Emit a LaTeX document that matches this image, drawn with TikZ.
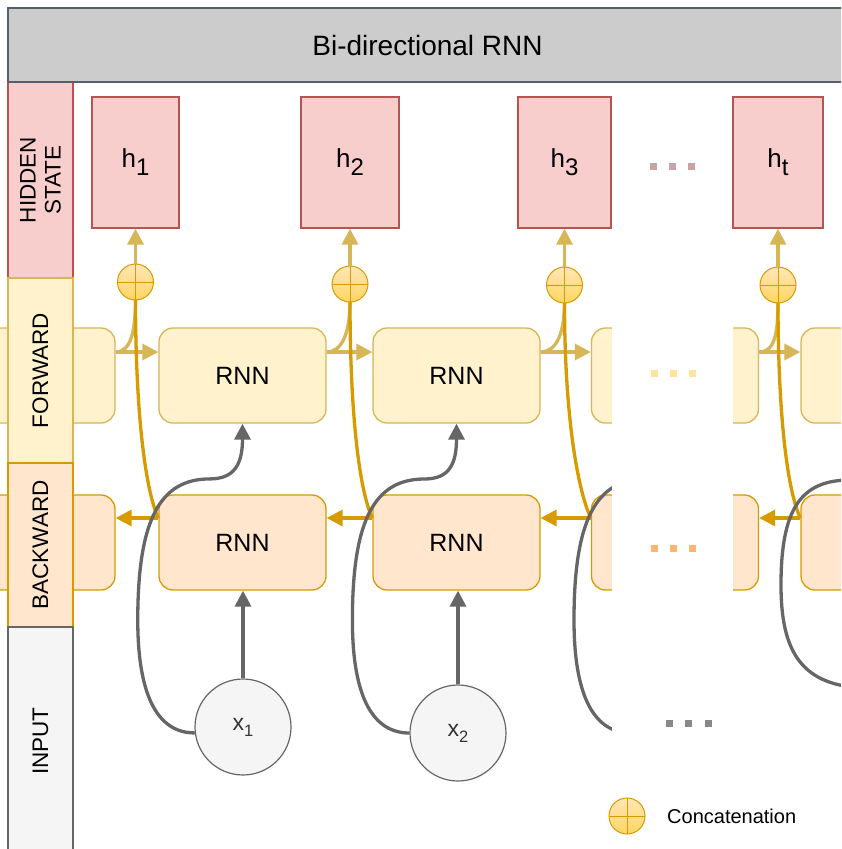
\documentclass[tikz,border=0pt]{standalone}
\usepackage{fontspec}
\setmainfont{Liberation Sans}
\usetikzlibrary{arrows.meta}

\definecolor{hdrfill}{HTML}{CCCCCC}
\definecolor{hdrline}{HTML}{56606D}
\definecolor{hsfill}{HTML}{F8CECC}
\definecolor{hsline}{HTML}{B85450}
\definecolor{fwfill}{HTML}{FFF2CC}
\definecolor{fwline}{HTML}{D6B656}
\definecolor{bwfill}{HTML}{FFE6CC}
\definecolor{bwline}{HTML}{D79B00}
\definecolor{infill}{HTML}{F5F5F5}
\definecolor{inputline}{HTML}{666666}
\definecolor{txtgray}{HTML}{333333}
\definecolor{cattop}{HTML}{FFE6B8}
\definecolor{catbot}{HTML}{FFD660}
\definecolor{dothid}{HTML}{C9A3A6}
\definecolor{dotfw}{HTML}{FFE599}
\definecolor{dotbw}{HTML}{FFB570}
\definecolor{dotin}{HTML}{888888}

\begin{document}
\begin{tikzpicture}[x=1pt,y=-1pt,
  blockarrow/.style={-{Triangle[length=16pt,width=16pt]}},
  fwflow/.style={draw=fwline,line width=3.3pt},
  bwflow/.style={draw=bwline,line width=3.3pt},
  inflow/.style={draw=inputline,line width=3.3pt},
  cellbox/.style={rectangle,rounded corners=14pt,minimum width=167pt,minimum height=95pt,
    line width=1.3pt,inner sep=0pt,font=\fontsize{25}{30}\selectfont},
  fwcell/.style={cellbox,fill=fwfill,draw=fwline},
  bwcell/.style={cellbox,fill=bwfill,draw=bwline},
  hbox/.style={rectangle,fill=hsfill,draw=hsline,line width=1.3pt,minimum height=131pt,
    inner sep=0pt,font=\fontsize{26}{30}\selectfont},
  concat/.style={circle,minimum size=36pt,inner sep=0pt,draw=bwline,line width=1pt,
    top color=cattop,bottom color=catbot,
    path picture={\draw[bwline,line width=1pt]
      (path picture bounding box.north) -- (path picture bounding box.south)
      (path picture bounding box.west) -- (path picture bounding box.east);}},
  xin/.style={circle,minimum size=96pt,inner sep=0pt,fill=infill,draw=inputline,
    line width=1.2pt,text=txtgray,font=\fontsize{23}{26}\selectfont},
  lane/.style={rectangle,rotate=90,minimum height=65pt,line width=1.3pt,align=center,
    inner sep=0pt,font=\fontsize{22.5}{25}\selectfont},
  banner/.style={rectangle,fill=hdrfill,draw=hdrline,line width=1.3pt,minimum width=839pt,
    minimum height=74pt,font=\fontsize{28}{32}\selectfont}
]
\useasboundingbox (0,0) rectangle (841,849);
\fill[white] (0,0) rectangle (841,849);
\clip (0,0) rectangle (841,849);

% forward and backward RNN cells
\node[fwcell] (f0) at (31.5,375.5) {};
\node[fwcell] (f1) at (242.5,375.5) {RNN};
\node[fwcell] (f2) at (456.5,375.5) {RNN};
\node[fwcell] (f3) at (675,375.5) {};
\node[fwcell] (f4) at (884.5,375.5) {};
\node[bwcell] (b0) at (31.5,542.5) {};
\node[bwcell] (b1) at (242.5,542.5) {RNN};
\node[bwcell] (b2) at (456.5,542.5) {RNN};
\node[bwcell] (b3) at (675,542.5) {};
\node[bwcell] (b4) at (884.5,542.5) {};

% concatenation points (positions only; drawn above the flows)
\coordinate (c1) at (135.5,282);
\coordinate (c2) at (350,284);
\coordinate (c3) at (564.5,285);
\coordinate (ct) at (778,285);

% forward flow and its branch to the concatenation
\foreach \a/\b/\c in {f0/f1/c1, f1/f2/c2, f2/f3/c3, f3/f4/ct}{
  \draw[fwflow,blockarrow] ([yshift=23.5pt]\a.east) -- ([yshift=23.5pt]\b.west);
  \draw[fwflow] ([yshift=23.5pt]\a.east) .. controls +(15,0) and +(0,33) .. ([yshift=-17pt]\c);
}
% backward flow and its branch to the concatenation
\foreach \a/\b/\c in {b1/b0/c1, b2/b1/c2, b3/b2/c3, b4/b3/ct}{
  \draw[bwflow,blockarrow] ([yshift=24.5pt]\a.west) -- ([yshift=24.5pt]\b.east);
  \draw[bwflow] ([yshift=24.5pt]\a.west) .. controls +(-12,-25) and +(0,120) .. ([yshift=-17pt]\c);
}
\node[concat] (k1) at (c1) {};
\node[concat] (k2) at (c2) {};
\node[concat] (k3) at (c3) {};
\node[concat] (kt) at (ct) {};

% inputs
\node[xin] (x1) at (243,727) {x\raisebox{-6pt}{\fontsize{16.5}{16}\selectfont 1}};
\node[xin] (x2) at (458,733) {x\raisebox{-6pt}{\fontsize{16.5}{16}\selectfont 2}};
\coordinate (x3in) at (631,733);
\coordinate (x4in) at (870,688);

\draw[inflow,blockarrow] (x1.north) -- (x1.north |- b1.south);
\draw[inflow,blockarrow] (x2.north) -- (x2.north |- b2.south);

\draw[inflow,blockarrow] (x1.187) .. controls +(-35,0) and +(0,80) .. ++(-57,-113)
  .. controls +(0,-100) and +(-50,0) .. ++(72,-141)
  .. controls +(25,0) and +(0,40) .. (f1.south);
\draw[inflow,blockarrow] (x2.west) .. controls +(-35,0) and +(0,80) .. ++(-57,-113)
  .. controls +(0,-100) and +(-50,0) .. ++(72,-141)
  .. controls +(25,0) and +(0,40) .. (f2.south);
\draw[inflow,blockarrow] (x3in) .. controls +(-35,0) and +(0,80) .. ++(-57,-113)
  .. controls +(0,-100) and +(-50,0) .. ++(72,-141)
  .. controls +(25,0) and +(0,40) .. (f3.south);
\draw[inflow,blockarrow] (x4in) .. controls +(-70,0) and +(0,65) .. ++(-89,-103)
  .. controls +(0,-75) and +(-50,0) .. ++(69,-105)
  .. controls +(25,0) and +(0,40) .. (f4.south);

% gap between the shown steps and the last one
\fill[white] (612,83) rectangle (733,849);
\foreach \x in {653,672,691}{
  \fill[dothid] (\x-3.5,162.5) rectangle +(7,7);
}
\foreach \x in {654,673,692}{
  \fill[dotfw] (\x-3.5,369.5) rectangle +(7,7);
  \fill[dotbw] (\x-3.5,544.5) rectangle +(7,7);
}
\foreach \x in {669,688,708}{
  \fill[dotin] (\x-3.5,719.5) rectangle +(7,7);
}

% hidden states
\node[hbox,minimum width=87pt] (h1) at (135.5,162.5) {h\raisebox{-8pt}{\fontsize{24}{24}\selectfont 1}};
\node[hbox,minimum width=98pt] (h2) at (350,162.5) {h\raisebox{-8pt}{\fontsize{24}{24}\selectfont 2}};
\node[hbox,minimum width=93pt] (h3) at (564.5,162.5) {h\raisebox{-8pt}{\fontsize{24}{24}\selectfont 3}};
\node[hbox,minimum width=90pt] (ht) at (778,162.5) {h\raisebox{-8pt}{\fontsize{24}{24}\selectfont t}};
\foreach \c/\h in {k1/h1, k2/h2, k3/h3, kt/ht}{
  \draw[fwflow,blockarrow] (\c.north) -- (\h.south);
}

% row labels
\node[lane,fill=hsfill,draw=hsline,minimum width=196pt] (lhs) at (40.5,180) {HIDDEN\\STATE};
\node[lane,fill=fwfill,draw=fwline,minimum width=185pt] (lfw) at (40.5,370.5) {FORWARD};
\node[lane,fill=bwfill,draw=bwline,minimum width=164pt] (lbw) at (40.5,545) {BACKWARD};
\node[lane,fill=infill,draw=inputline,minimum width=228pt] (lin) at (40.5,741) {INPUT};

% title bar
\node[banner] (title) at (427.5,45) {Bi-directional RNN};

% legend
\node[concat] (lg) at (627,816) {};
\node[anchor=west,inner sep=0pt,font=\fontsize{20}{24}\selectfont] (lgtext) at (667,816) {Concatenation};
\end{tikzpicture}
\end{document}
